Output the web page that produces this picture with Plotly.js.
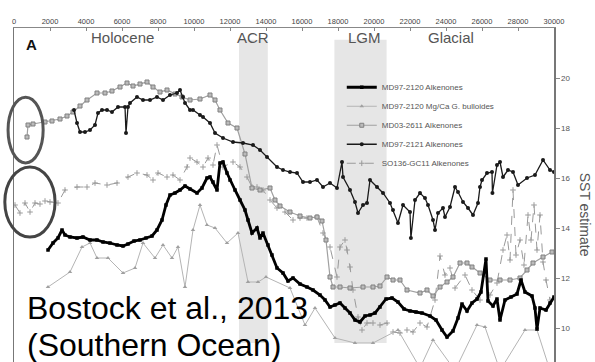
<!DOCTYPE html>
<html><head><meta charset="utf-8">
<script src="https://cdn.plot.ly/plotly-3.0.1.min.js"></script>
<style>html,body{margin:0;padding:0;background:#fff;}#chart{width:595px;height:362px;}</style>
</head><body><div id="chart"></div>
<script>
// Age (years BP) and SST estimates
const ageAlk2120 = [1889,2167,2444,2667,2833,3111,3500,3833,4222,4611,4944,5333,5722,6056,6333,6667,7000,7333,7667,7944,8222,8444,8667,8944,9222,9500,9778,10167,10444,10722,10889,11056,11278,11444,11611,11833,12000,12278,12556,12833,13000,13222,13500,13667,13833,14111,14333,14611,14944,15222,15500,15889,16278,16611,17000,17278,17556,17833,18111,18389,18667,18944,19222,19500,19778,20056,20333,20667,21000,21333,21667,22000,22333,22667,23111,23444,23778,24056,24389,24667,24889,25167,25444,25722,25944,26222,26333,26611,26833,27000,27278,27611,27944,28167,28389,28778,28944,29056,29222,29556,29778,30000];
const sstAlk2120 = [13.12,13.4,13.6,13.92,13.72,13.64,13.6,13.64,13.52,13.52,13.44,13.4,13.32,13.28,13.36,13.48,13.52,13.6,13.68,13.92,14.32,14.92,15.32,15.4,15.52,15.68,15.56,15.4,15.6,16.0,16.04,15.84,15.52,16.6,16.64,16.2,15.92,15.52,15.12,14.72,14.32,13.8,14.0,13.6,13.8,13.32,12.92,12.4,12.2,11.88,12.0,11.76,11.64,11.52,11.32,11.12,10.84,10.92,11.0,10.8,10.6,10.32,10.24,10.48,10.52,10.6,10.84,11.16,11.2,11.04,10.76,10.68,10.64,10.6,10.48,10.32,9.92,9.64,9.88,10.4,10.96,10.68,11.0,11.16,11.44,12.76,11.08,10.88,11.16,10.32,11.12,11.24,11.36,11.92,11.44,11.28,10.8,9.96,10.8,10.72,11.0,11.24];

const ageMgCa = [1889,3111,3778,4222,4611,5222,6056,6722,7167,7833,8278,8778,9111,9500,9944,10333,10722,11167,11833,12444,13000,13556,14000,15333,16167,16722,17833,18944,19944,21333,22556,23278,24500,25722,26167,27000,28389,29056,29778];
const sstMgCa = [11.64,12.24,13.24,13.4,12.8,12.8,12.2,12.4,13.4,12.8,13.32,12.8,13.24,11.64,13.92,14.92,14.12,14.0,13.4,13.8,11.84,11.84,12.04,11.6,10.12,10.8,9.6,9.4,9.4,9.92,8.4,9.52,8.3,10.12,10.04,8.3,9.92,9.92,8.3];

const ageMD03 = [722,778,1056,1722,2111,2556,2944,3278,3667,4056,4611,5056,5444,5889,6278,6611,7000,7389,7722,8111,8500,8944,9333,9778,10333,10889,11167,11444,11889,12389,12833,13222,13667,14222,14500,14778,15333,15889,16444,16833,17111,17333,17556,17722,18111,18667,19389,19944,20333,20722,21056,21444,21833,22556,22944,23278,23667,24056,24389,24778,25167,25444,25889,26444,27000,27556,28111,28500,28833,29389,29889];
const sstMD03 = [17.64,18.12,18.16,18.24,18.28,18.36,18.48,18.64,18.88,19.12,19.4,19.4,19.48,19.64,19.8,19.68,19.76,19.84,19.64,19.44,19.52,19.36,19.24,19.12,19.16,19.32,19.12,18.72,18.2,18.0,16.96,15.6,15.52,15.6,15.12,14.88,14.64,14.48,14.4,14.44,14.28,13.52,12.04,11.64,11.64,11.6,11.64,11.64,11.68,12.04,11.92,11.92,11.52,11.4,11.52,11.28,11.64,11.84,12.04,12.6,12.6,12.44,12.2,11.92,11.92,11.92,12.0,12.32,12.6,12.84,13.04];

const ageMD2121 = [3333,3500,3667,3944,4222,4500,4667,4889,5167,5444,5778,6167,6222,6333,6444,6833,7167,7556,7944,8278,8667,9056,9222,9389,9500,9778,9944,10333,10500,10889,11167,11611,12167,12722,13278,13667,14056,14611,14944,15333,15722,16056,16444,16833,17167,17556,17944,18222,18278,18667,18944,19111,19389,19611,19778,20167,20500,20889,21056,21333,21611,22000,22050,22278,22556,22833,23000,23278,23389,23556,23833,23944,24222,24500,24667,24944,25222,25500,25778,25889,26000,26278,26556,26580,26833,27000,27167,27444,27722,28000,28500,28944,29389,29778,30000];
const sstMD2121 = [18.72,18.2,17.84,17.84,17.92,18.12,18.6,18.72,18.72,18.64,18.84,18.84,17.8,18.84,19.0,19.24,19.12,19.12,19.24,19.12,19.32,19.4,19.52,19.24,19.0,18.72,18.72,18.52,18.44,18.2,17.8,17.6,17.44,17.4,17.32,17.12,16.84,16.44,16.32,16.24,16.2,15.84,15.84,15.92,15.64,15.8,15.6,16.64,16.04,15.52,15.04,14.6,14.92,15.0,15.92,15.64,15.4,15.0,14.72,14.2,14.92,14.64,13.6,15.12,15.4,15.2,14.92,14.32,13.92,14.6,14.8,14.44,14.84,15.64,15.44,15.04,14.8,14.52,15.0,15.64,15.92,16.2,16.24,15.4,16.52,16.64,16.04,16.32,16.24,15.72,16.0,16.12,16.72,16.32,16.24];

const ageSO136 = [56,333,611,889,1167,1444,1722,2000,2444,2833,3500,4056,4500,5167,5722,6333,6833,7389,7722,8000,8500,8833,9222,9611,9778,10167,10500,10778,11056,11278,11611,12167,12556,12944,13222,13500,13833,14222,14611,15056,15500,15889,16278,16833,17167,17556,17944,18111,18389,18500,18667,18833,19111,19333,19611,19944,20333,20722,21056,21444,21833,22167,22556,22944,23389,23667,23944,24222,24500,25056,25444,25889,26444,26833,27167,27389,27556,27722,27889,28111,28333,28556,28722,28889,29056,29222,29389,29556,29778];
const sstSO136 = [14.92,14.6,15.0,14.64,15.0,14.96,15.08,15.04,15.0,15.52,15.64,15.64,15.8,15.72,15.8,16.04,16.2,16.12,15.92,16.2,16.04,16.12,15.92,16.44,16.8,16.64,16.44,16.8,16.52,17.32,16.44,16.64,16.44,16.04,15.64,15.64,15.52,15.12,14.8,14.64,14.32,14.4,14.4,14.44,13.8,13.24,12.04,13.24,13.52,13.12,12.44,11.52,10.44,9.92,10.2,10.2,10.12,10.2,9.84,9.8,9.92,9.84,10.2,10.04,11.12,12.88,12.12,12.4,11.6,12.12,11.52,11.12,11.32,11.8,13.12,13.72,12.72,15.52,12.92,13.52,12.52,14.52,13.52,14.92,13.12,14.52,12.64,11.92,11.12];

const xTickVals = [0,2000,4000,6000,8000,10000,12000,14000,16000,18000,20000,22000,24000,26000,28000,30000];
const xTickText = ["0","2000","4000","6000","8000","10000","12000","14000","16000","18000","20000","22000","24000","26000","28000","30000"];
const yTickVals = [10,12,14,16,18,20];

const periods = [{name:"Holocene", mid:6000}, {name:"ACR", mid:13250}, {name:"LGM", mid:19450}, {name:"Glacial", mid:24300}];
const shadedBands = [[12500,14100],[17800,20700]];

const traces = [
  {x:ageSO136, y:sstSO136, name:"SO136-GC11 Alkenones", legendrank:5, mode:"lines+markers",
   line:{color:"#9a9a9a", width:1, dash:"dash"}, marker:{symbol:"cross-thin", size:4, color:"#9a9a9a", line:{color:"#9a9a9a", width:1}}},
  {x:ageMgCa, y:sstMgCa, name:"MD97-2120 Mg/Ca G. bulloides", legendrank:2, mode:"lines+markers",
   line:{color:"#b4b4b4", width:1}, marker:{symbol:"triangle-up", size:4, color:"#a0a0a0"}},
  {x:ageMD03, y:sstMD03, name:"MD03-2611 Alkenones", legendrank:3, mode:"lines+markers",
   line:{color:"#a0a0a0", width:1.2}, marker:{symbol:"square", size:4, color:"#bbbbbb", line:{color:"#808080", width:1}}},
  {x:ageMD2121, y:sstMD2121, name:"MD97-2121 Alkenones", legendrank:4, mode:"lines+markers",
   line:{color:"#1a1a1a", width:1.3}, marker:{symbol:"circle", size:4, color:"#1a1a1a"}},
  {x:ageAlk2120, y:sstAlk2120, name:"MD97-2120 Alkenones", legendrank:1, mode:"lines+markers",
   line:{color:"#000", width:2.8}, marker:{symbol:"square", size:3.5, color:"#000"}}
];

const shapes = shadedBands.map(b => ({type:"rect", xref:"x", yref:"paper", x0:b[0], x1:b[1], y0:0.057, y1:0.965,
  fillcolor:"#e6e6e6", line:{width:0}, layer:"below"}));
shapes.push({type:"circle", xref:"paper", yref:"paper", x0:-0.011, x1:0.054, y0:0.596, y1:0.793, line:{color:"#555", width:3}});
shapes.push({type:"circle", xref:"paper", yref:"paper", x0:-0.017, x1:0.076, y0:0.374, y1:0.584, line:{color:"#444", width:3}});

const annotations = periods.map(p => ({text:p.name, x:p.mid, xref:"x", y:0.972, yref:"paper", showarrow:false,
  font:{family:"Liberation Sans, Arial", size:15, color:"#555"}, xanchor:"center", yanchor:"middle"}));
annotations.push({text:"<b>A</b>", x:0.033, y:0.95, xref:"paper", yref:"paper", showarrow:false,
  xanchor:"center", yanchor:"middle", font:{family:"Liberation Sans, Arial", size:15, color:"#111"}});
annotations.push({text:"Bostock et al., 2013", x:0.02, y:0.162, xref:"paper", yref:"paper", xanchor:"left", yanchor:"middle", showarrow:false,
  font:{family:"Liberation Sans, Arial", size:32, color:"#000"}});
annotations.push({text:"(Southern Ocean)", x:0.02, y:0.05, xref:"paper", yref:"paper", xanchor:"left", yanchor:"middle", showarrow:false,
  font:{family:"Liberation Sans, Arial", size:32, color:"#000"}});
annotations.push({text:"SST estimate", x:1.058, y:0.44, xref:"paper", yref:"paper", textangle:90, showarrow:false,
  xanchor:"center", yanchor:"middle", font:{family:"Liberation Sans, Arial", size:14, color:"#555"}});

const layout = {
  width:595, height:362,
  margin:{l:14, r:41, t:28, b:0, pad:0},
  paper_bgcolor:"#fff", plot_bgcolor:"#fff",
  showlegend:true,
  legend:{x:0.607, y:0.866, xanchor:"left", yanchor:"top", bgcolor:"rgba(255,255,255,0)",
    font:{family:"Liberation Sans, Arial", size:8, color:"#555"}, traceorder:"normal"},
  xaxis:{range:[0,30000], side:"top", tickvals:xTickVals, ticktext:xTickText, showgrid:false, zeroline:false,
    showline:true, linecolor:"#888", linewidth:1.5, ticks:"inside", ticklen:3, tickcolor:"#888",
    tickfont:{family:"Liberation Sans, Arial", size:7.5, color:"#444"}},
  yaxis:{range:[8.64,22], side:"right", tickvals:yTickVals, showgrid:false, zeroline:false,
    showline:true, mirror:true, linecolor:"#777", linewidth:1.5, ticks:"outside", ticklen:4, tickcolor:"#888",
    tickfont:{family:"Liberation Sans, Arial", size:8, color:"#555"}},
  shapes:shapes, annotations:annotations
};

Plotly.newPlot("chart", traces, layout, {staticPlot:true, displayModeBar:false});
</script></body></html>
